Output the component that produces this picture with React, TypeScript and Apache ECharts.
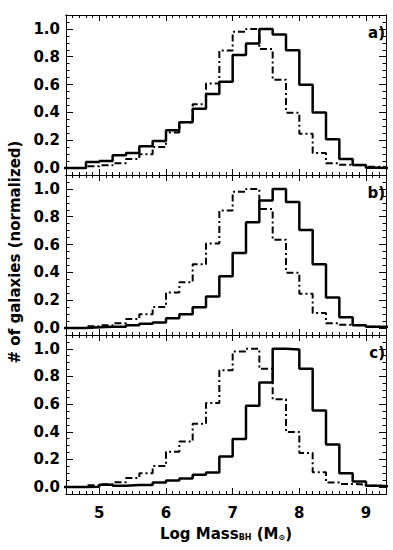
import React, { useEffect, useRef } from "react";
import * as echarts from "echarts";

// Bin edges (left edges of each 0.2-dex bin, plus the closing edge)
const binEdges = [4.4, 4.6, 4.8, 5.0, 5.2, 5.4, 5.6, 5.8, 6.0, 6.2, 6.4, 6.6, 6.8, 7.0, 7.2, 7.4, 7.6, 7.8, 8.0, 8.2, 8.4, 8.6, 8.8, 9.0, 9.2, 9.4];

// Dash-dot histogram (same in all three panels)
const dashValues = [0, 0, 0.013, 0.02, 0.035, 0.065, 0.10, 0.152, 0.255, 0.33, 0.458, 0.608, 0.845, 0.98, 1.0, 0.855, 0.635, 0.398, 0.247, 0.108, 0.034, 0.023, 0.018, 0.01, 0.006];

// Solid histograms
const solidA = [0, 0, 0.043, 0.05, 0.092, 0.108, 0.157, 0.195, 0.272, 0.33, 0.427, 0.533, 0.62, 0.812, 0.896, 1.0, 0.96, 0.846, 0.598, 0.40, 0.207, 0.065, 0.022, 0.003, 0.0];
const solidB = [0, 0, 0.005, 0.01, 0.01, 0.02, 0.03, 0.04, 0.07, 0.10, 0.15, 0.227, 0.373, 0.54, 0.76, 0.916, 1.0, 0.906, 0.704, 0.458, 0.22, 0.077, 0.02, 0.01, 0.005];
const solidC = [0, 0, 0.003, 0.017, 0.01, 0.015, 0.015, 0.034, 0.048, 0.063, 0.09, 0.106, 0.222, 0.347, 0.588, 0.757, 1.0, 0.995, 0.855, 0.554, 0.308, 0.10, 0.04, 0.01, 0.005];

const panelLabels = ["a)", "b)", "c)"];
const xMajorTicks = [5, 6, 7, 8, 9];
const yMajorTicks = [0, 0.2, 0.4, 0.6, 0.8, 1.0];

const FONT = "DejaVu Sans";

function toSteps(vals: number[]) {
  return binEdges.map((e, i) => [e, vals[Math.min(i, vals.length - 1)]]);
}

export default function App() {
  const ref = useRef<HTMLDivElement>(null);
  useEffect(() => {
    if (!ref.current) return;
    const chart = echarts.init(ref.current, null, { renderer: "svg" });
    const solids = [solidA, solidB, solidC];
    const tops = [15, 175, 335];
    const heights = [160, 160, 159];
    const grids: any[] = [];
    const xAxes: any[] = [];
    const yAxes: any[] = [];
    const series: any[] = [];
    const graphics: any[] = [];
    const line = { show: true, onZero: false, lineStyle: { color: "#000", width: 1 } };
    const labelStyle = { color: "#000", fontFamily: FONT, fontWeight: "bold", fontSize: 15 };

    for (let p = 0; p < 3; p++) {
      grids.push({ left: 66, right: 7, top: tops[p], height: heights[p] });
      const xBase = { type: "value", gridIndex: p, min: 4.5, max: 9.3, splitLine: { show: false }, axisLine: line };
      // major x axes
      for (const pos of ["bottom", "top"]) {
        xAxes.push({
          ...xBase,
          position: pos,
          axisTick: { show: true, inside: true, length: 6, customValues: xMajorTicks, lineStyle: { color: "#000", width: 1 } },
          axisLabel: p === 2 && pos === "bottom"
            ? { show: true, customValues: xMajorTicks, margin: 11, ...labelStyle, formatter: (v: number) => String(v) }
            : { show: false },
        });
      }
      // minor x axes
      for (const pos of ["bottom", "top"]) {
        xAxes.push({
          ...xBase,
          position: pos,
          interval: 0.1,
          axisTick: { show: true, inside: true, length: 3, lineStyle: { color: "#000", width: 1 } },
          axisLabel: { show: false },
        });
      }
      const yBase = { type: "value", gridIndex: p, min: -0.05, max: 1.1, splitLine: { show: false }, axisLine: line };
      for (const pos of ["left", "right"]) {
        yAxes.push({
          ...yBase,
          position: pos,
          axisTick: { show: true, inside: true, length: 7, customValues: yMajorTicks, lineStyle: { color: "#000", width: 1 } },
          axisLabel: pos === "left"
            ? { show: true, customValues: yMajorTicks, margin: 6, ...labelStyle, formatter: (v: number) => v.toFixed(1) }
            : { show: false },
        });
      }
      for (const pos of ["left", "right"]) {
        yAxes.push({
          ...yBase,
          position: pos,
          interval: 0.05,
          axisTick: { show: true, inside: true, length: 3.5, lineStyle: { color: "#000", width: 1 } },
          axisLabel: { show: false },
        });
      }
      const xi = p * 4;
      const yi = p * 4;
      series.push({
        type: "line",
        xAxisIndex: xi,
        yAxisIndex: yi,
        step: "end",
        symbol: "none",
        data: toSteps(dashValues),
        lineStyle: { color: "#000", width: 2, type: [7, 3, 2, 3] },
        z: 2,
      });
      series.push({
        type: "line",
        xAxisIndex: xi,
        yAxisIndex: yi,
        step: "end",
        symbol: "none",
        data: toSteps(solids[p]),
        lineStyle: { color: "#000", width: 2.5, type: "solid" },
        z: 3,
      });
      graphics.push({
        type: "text",
        right: 8,
        top: tops[p] + 10,
        style: { text: panelLabels[p], fill: "#000", font: `bold 15px "${FONT}"`, textAlign: "right" },
      });
    }

    graphics.push({
      type: "text",
      x: 15,
      y: 252,
      rotation: Math.PI / 2,
      style: {
        text: "# of galaxies (normalized)",
        fill: "#000",
        font: `bold 15px "${FONT}"`,
        textAlign: "center",
        textVerticalAlign: "middle",
      },
    });
    graphics.push({
      type: "text",
      x: 226,
      y: 534,
      style: {
        text: "{n|Log Mass}{s|BH}{n| (M}{s|⊙}{n|)}",
        textAlign: "center",
        textVerticalAlign: "middle",
        rich: {
          n: { fontFamily: FONT, fontWeight: "bold", fontSize: 15, fill: "#000", verticalAlign: "bottom" },
          s: { fontFamily: FONT, fontWeight: "bold", fontSize: 8, fill: "#000", verticalAlign: "bottom", padding: [0, 0, 0, 0] },
        },
      },
    });

    chart.setOption({
      animation: false,
      backgroundColor: "#fff",
      grid: grids,
      xAxis: xAxes,
      yAxis: yAxes,
      series,
      graphic: graphics,
    });
    return () => chart.dispose();
  }, []);
  return <div ref={ref} style={{ width: 393, height: 550, position: "absolute", left: 0, top: 0 }} />;
}
